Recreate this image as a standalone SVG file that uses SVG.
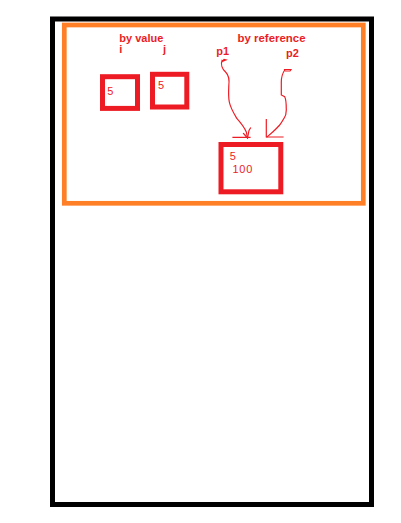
<svg xmlns="http://www.w3.org/2000/svg" width="401" height="523" viewBox="0 0 401 523">
<style>
.lbl{font-family:"Liberation Sans",Arial,sans-serif;font-size:11px;font-weight:bold;fill:#ED1C24}
.val{font-family:"Liberation Sans",Arial,sans-serif;font-size:11px;fill:#ED1C24}
.box{fill:none;stroke:#ED1C24;stroke-width:5}
.wire{fill:none;stroke:#ED1C24;stroke-width:1.2;stroke-linecap:square}
</style>
<rect width="401" height="523" fill="#fff"/>
<g id="frame"><rect x="52.5" y="19" width="319" height="485.5" fill="none" stroke="#000" stroke-width="5"/></g>
<g id="container"><rect x="64.3" y="25" width="299" height="178.3" fill="none" stroke="#FF7F27" stroke-width="4.7"/></g>
<g id="labels">
<text class="lbl" x="119.3" y="41.7">by value</text>
<text class="lbl" x="119.3" y="53.3">i</text>
<text class="lbl" x="163" y="53.3">j</text>
<text class="lbl" x="237.5" y="42.3" textLength="68" lengthAdjust="spacingAndGlyphs">by reference</text>
<text class="lbl" x="216.3" y="55">p1</text>
<text class="lbl" x="286" y="56.7">p2</text>
</g>
<g id="node-i"><rect class="box" x="102.5" y="76.7" width="35" height="31.7"/><text class="val" x="107.3" y="95">5</text></g>
<g id="node-j"><rect class="box" x="152.5" y="74.3" width="34.3" height="32.7"/><text class="val" x="158" y="89.3">5</text></g>
<g id="node-obj"><rect class="box" x="221" y="144.5" width="59.8" height="47.3" stroke-width="5.3"/><text class="val" x="229.8" y="160">5</text><text class="val" x="232.5" y="173.3" letter-spacing="0.7">100</text></g>
<g id="connectors">
<path class="wire" d="M222,62 L224,59.5 L226,60 L223.5,61 M222,60.3 C220.5,64 222,69 226,72.5 C229.5,76 229.5,80 228.8,86 C228.5,92 228.5,98 229.3,102 C230.5,108 233,112 237,118.7 C240,122 244,127 246.3,132 L247.5,138"/>
<path class="wire" d="M243.5,133.5 L247.5,138 L249,130.5 L250.5,128 M233,137.3 L250,137.3"/>
<path class="wire" d="M284.5,69.5 L291,69.5 L290,71 L285.5,71 M284.7,70 C282,74 281.3,77 281.3,82 L281.3,95 L284.7,96.7 C286,99 286.3,102 286.3,110 C286.3,114 285,117 284,118.3 C282,122 281,123 279.7,125 C277,128 275,130 273,131.7 L267,137"/>
<path class="wire" d="M266.3,119.5 L266.3,137 L283,137"/>
</g>
</svg>
